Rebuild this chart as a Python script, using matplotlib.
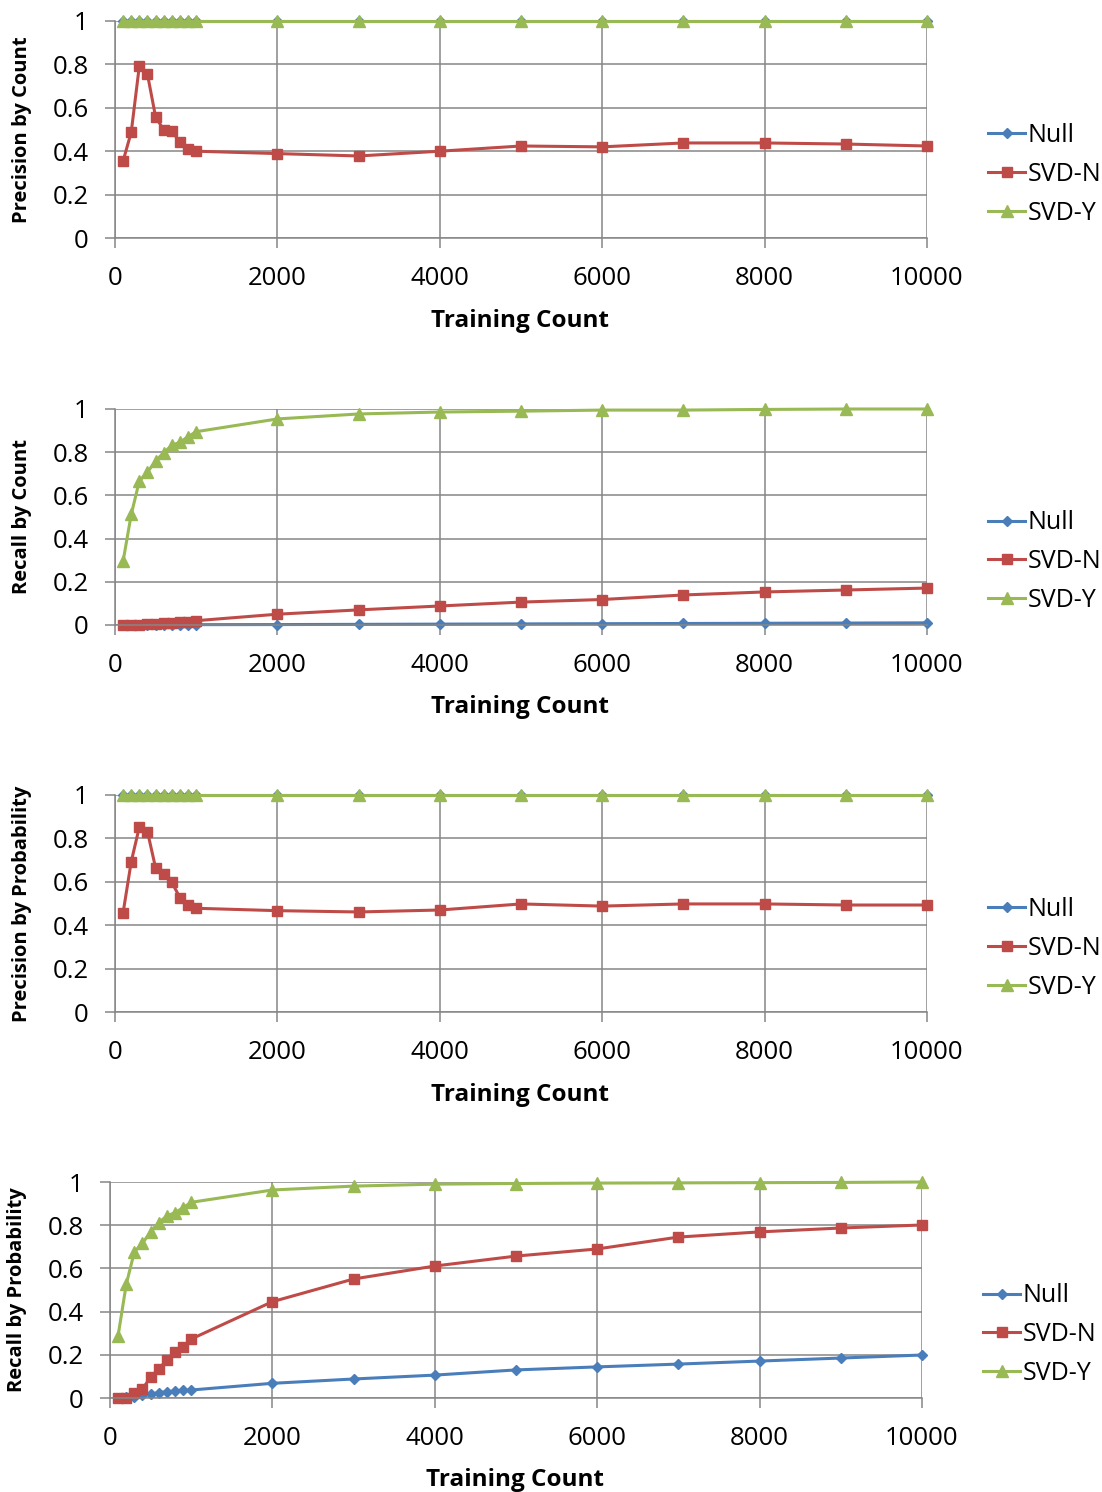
import numpy as np
import matplotlib.pyplot as plt
import matplotlib as mpl

mpl.rc('font', family=['Open Sans', 'DejaVu Sans'])

training_count = [100, 200, 300, 400, 500, 600, 700, 800, 900, 1000,
                  2000, 3000, 4000, 5000, 6000, 7000, 8000, 9000, 10000]
series_names = ["Null", "SVD-N", "SVD-Y"]

# precision by count
prec_count_null = [1.0] * 19
prec_count_svdn = [0.355, 0.488, 0.794, 0.754, 0.558, 0.498, 0.492, 0.442, 0.409, 0.40,
                   0.389, 0.378, 0.40, 0.424, 0.42, 0.438, 0.438, 0.433, 0.424]
prec_count_svdy = [1.0] * 19

# recall by count
rec_count_null = [0.0, 0.0, 0.0005, 0.0008, 0.001, 0.001, 0.0012, 0.0014, 0.0015, 0.0016,
                  0.002, 0.003, 0.004, 0.005, 0.006, 0.007, 0.008, 0.009, 0.01]
rec_count_svdn = [0.0, 0.001, 0.002, 0.003, 0.005, 0.007, 0.010, 0.013, 0.016, 0.020,
                  0.05, 0.07, 0.088, 0.106, 0.118, 0.139, 0.153, 0.162, 0.171]
rec_count_svdy = [0.296, 0.512, 0.667, 0.708, 0.759, 0.798, 0.832, 0.846, 0.872, 0.895,
                  0.954, 0.977, 0.986, 0.99, 0.995, 0.995, 0.998, 1.0, 1.0]

# precision by probability
prec_prob_null = [1.0] * 19
prec_prob_svdn = [0.458, 0.693, 0.853, 0.831, 0.664, 0.634, 0.597, 0.527, 0.493, 0.478,
                  0.467, 0.461, 0.47, 0.498, 0.488, 0.498, 0.498, 0.493, 0.493]
prec_prob_svdy = [1.0] * 19

# recall by probability
rec_prob_null = [0.0, 0.003, 0.006, 0.012, 0.018, 0.025, 0.029, 0.032, 0.035, 0.037,
                 0.068, 0.088, 0.106, 0.13, 0.144, 0.157, 0.171, 0.185, 0.199]
rec_prob_svdn = [0.0, 0.002, 0.022, 0.042, 0.096, 0.134, 0.176, 0.214, 0.238, 0.273,
                 0.446, 0.551, 0.611, 0.657, 0.69, 0.745, 0.769, 0.787, 0.801]
rec_prob_svdy = [0.289, 0.526, 0.677, 0.716, 0.77, 0.812, 0.843, 0.858, 0.881, 0.906,
                 0.963, 0.981, 0.99, 0.993, 0.995, 0.996, 0.997, 0.998, 1.0]

panels = [
    ("Precision by Count", [prec_count_null, prec_count_svdn, prec_count_svdy]),
    ("Recall by Count", [rec_count_null, rec_count_svdn, rec_count_svdy]),
    ("Precision by Probability", [prec_prob_null, prec_prob_svdn, prec_prob_svdy]),
    ("Recall by Probability", [rec_prob_null, rec_prob_svdn, rec_prob_svdy]),
]

colors = ['#4A7EBB', '#BE4B48', '#98B954']
markers = ['D', 's', '^']
msizes = [5, 7.5, 8]
grid_col = '#868686'

W, H = 1102, 1492
# axes rectangles in pixels: left, top, right, bottom
rects = [(115, 21, 927, 238), (115, 409, 927, 625),
         (115, 795, 927, 1012), (110, 1182, 922, 1398)]

fig = plt.figure(figsize=(W / 100, H / 100), dpi=100)

for (name, data), (l, t, r, b) in zip(panels, rects):
    ax = fig.add_axes([l / W, 1 - b / H, (r - l) / W, (b - t) / H])
    for vals, c, m, ms, lab in zip(data, colors, markers, msizes, series_names):
        ax.plot(training_count, vals, color=c, marker=m, ms=ms, lw=2.2,
                mec=c, label=lab, clip_on=False)
    ax.set_xlim(0, 10000)
    ax.set_ylim(0, 1)
    ax.set_xticks(range(0, 10001, 2000))
    ax.set_yticks(np.arange(0, 1.01, 0.2))
    ax.set_yticklabels(["0", "0.2", "0.4", "0.6", "0.8", "1"])
    ax.grid(color=grid_col, linewidth=1.1)
    ax.set_axisbelow(True)
    for s in ['top', 'right']:
        ax.spines[s].set_visible(False)
    for s in ['left', 'bottom']:
        ax.spines[s].set_color(grid_col)
        ax.spines[s].set_linewidth(1.1)
    ax.tick_params(axis='both', colors=grid_col, labelcolor='black',
                   labelsize=18.5, length=7, width=1.1)
    ax.tick_params(axis='x', pad=13)
    ax.tick_params(axis='y', pad=12)
    ax.set_xlabel("Training Count", fontsize=17.5, fontweight='bold')
    ax.xaxis.set_label_coords(0.499, -0.325)
    ax.set_ylabel(name, fontsize=14.5, fontweight='bold')
    ax.yaxis.set_label_coords(-0.102, 0.5)
    ax.legend(loc='center left', bbox_to_anchor=(1.075, 0.293), frameon=False,
              fontsize=18, handlelength=1.5, handletextpad=0.1, labelspacing=0.55,
              borderaxespad=0, borderpad=0)

fig.savefig("out.png", dpi=100)
